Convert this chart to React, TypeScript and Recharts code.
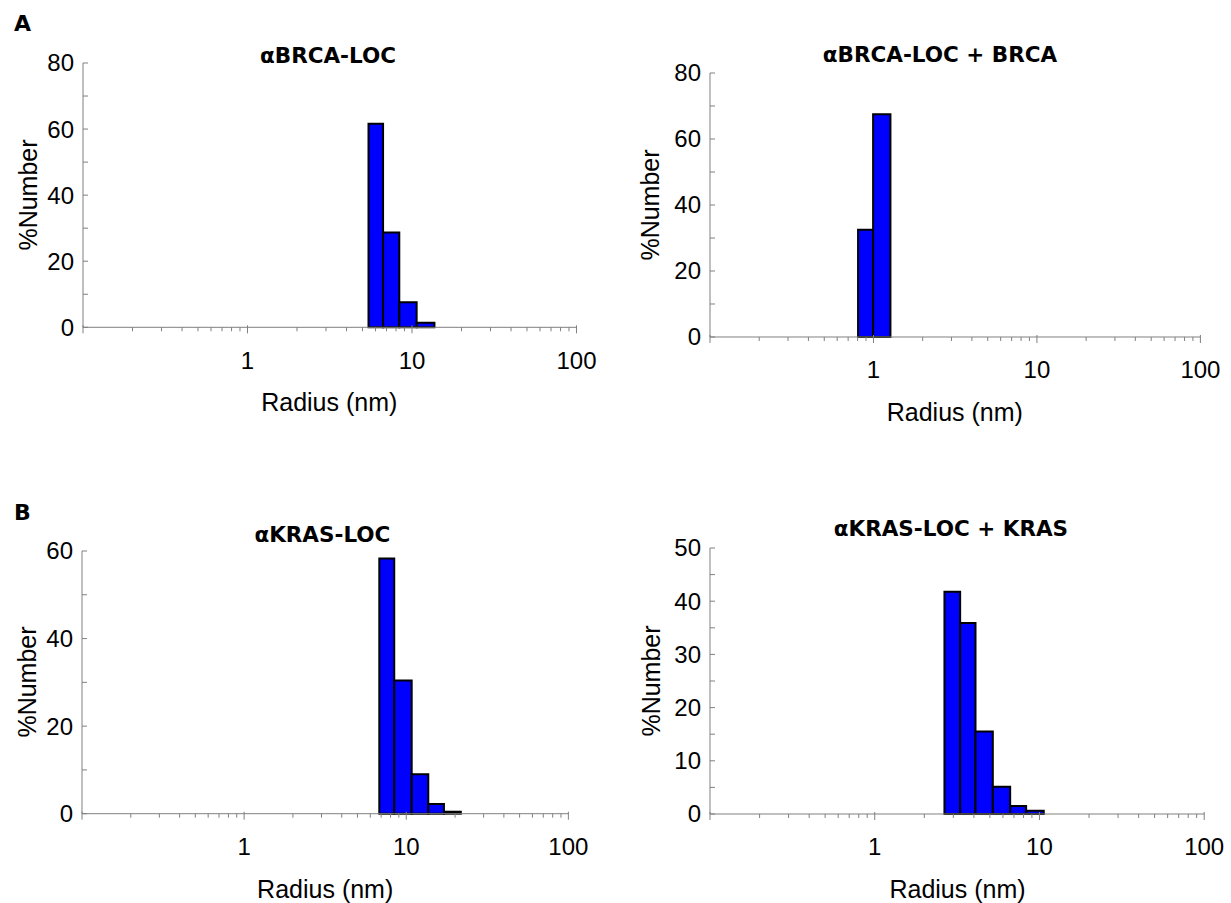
import React from "react";
import { ComposedChart, XAxis, YAxis, ReferenceArea, Line } from "recharts";

// shared log radius axis
const xTicks = [
  0.1, 0.2, 0.3, 0.4, 0.5, 0.6, 0.7, 0.8, 0.9,
  1, 2, 3, 4, 5, 6, 7, 8, 9,
  10, 20, 30, 40, 50, 60, 70, 80, 90,
  100,
];
const xMajor = [0.1, 1, 10, 100];
const xLabels = [1, 10, 100];

// αBRCA-LOC
const brcaLocEdges = [5.44, 6.67, 8.37, 10.67, 13.69];
const brcaLocValues = [61.6, 28.7, 7.6, 1.4];
const brcaLocYTicks = [0, 10, 20, 30, 40, 50, 60, 70, 80];
const brcaLocYLabels = [0, 20, 40, 60, 80];

// αBRCA-LOC + BRCA
const brcaBoundEdges = [0.805, 0.995, 1.27];
const brcaBoundValues = [32.5, 67.5];
const brcaBoundYTicks = [0, 10, 20, 30, 40, 50, 60, 70, 80];
const brcaBoundYLabels = [0, 20, 40, 60, 80];

// αKRAS-LOC
const krasLocEdges = [6.82, 8.43, 10.8, 13.67, 17.08, 21.7];
const krasLocValues = [58.3, 30.4, 9.0, 2.2, 0.45];
const krasLocYTicks = [0, 10, 20, 30, 40, 50, 60];
const krasLocYLabels = [0, 20, 40, 60];

// αKRAS-LOC + KRAS
const krasBoundEdges = [2.65, 3.3, 4.09, 5.21, 6.64, 8.3, 10.62];
const krasBoundValues = [41.8, 35.9, 15.5, 5.1, 1.5, 0.6];
const krasBoundYTicks = [0, 5, 10, 15, 20, 25, 30, 35, 40, 45, 50];
const krasBoundYLabels = [0, 10, 20, 30, 40, 50];

const AXIS_GRAY = "#808080";
const SANS = "'Liberation Sans', Arial, sans-serif";
const TITLE_FONT = "'DejaVu Sans', sans-serif";

const XTick = (props: any) => {
  const { x, y, payload } = props;
  const v = payload.value;
  const major = xMajor.includes(v);
  return (
    <g>
      <line x1={x} x2={x} y1={major ? y - 2 : y} y2={y + (major ? 6 : 4)} stroke={AXIS_GRAY} strokeWidth={1} />
      {xLabels.includes(v) && (
        <text x={x} y={y + 33} textAnchor="middle" dominantBaseline="central" fontSize={24} fontFamily={SANS} fill="#000">
          {v}
        </text>
      )}
    </g>
  );
};

const makeYTick = (labels: number[]) => (props: any) => {
  const { x, y, payload } = props;
  const v = payload.value;
  return (
    <g>
      <line x1={x} x2={x + 5} y1={y} y2={y} stroke={AXIS_GRAY} strokeWidth={1} />
      {labels.includes(v) && (
        <text x={x - 9} y={y} textAnchor="end" dominantBaseline="central" fontSize={24} fontFamily={SANS} fill="#000">
          {v}
        </text>
      )}
    </g>
  );
};

interface PanelProps {
  title: string;
  edges: number[];
  values: number[];
  yTicks: number[];
  yLabels: number[];
  plot: { left: number; right: number; top: number; bottom: number };
  titlePos: { x: number; y: number };
  yLabelX: number;
}

const Panel = ({ title, edges, values, yTicks, yLabels, plot, titlePos, yLabelX }: PanelProps) => {
  const rows = values.map((v, i) => ({ mid: Math.sqrt(edges[i] * edges[i + 1]), value: v }));
  const yMax = yTicks[yTicks.length - 1];
  const plotW = plot.right - plot.left;
  const plotH = plot.bottom - plot.top;
  const YTick = makeYTick(yLabels);
  return (
    <>
      <div
        style={{
          position: "absolute",
          left: titlePos.x,
          top: titlePos.y,
          transform: "translate(-50%, -50%)",
          fontFamily: TITLE_FONT,
          fontWeight: "bold",
          fontSize: 21.5,
          lineHeight: 1,
          whiteSpace: "nowrap",
        }}
      >
        {title}
      </div>
      <div style={{ position: "absolute", left: plot.left - 80, top: plot.top - 20 }}>
        <ComposedChart
          width={plotW + 110}
          height={plotH + 110}
          data={rows}
          margin={{ top: 20, right: 30, left: 0, bottom: 0 }}
        >
          <XAxis
            dataKey="mid"
            type="number"
            scale="log"
            domain={[0.1, 100]}
            allowDataOverflow
            ticks={xTicks}
            interval={0}
            tickSize={0}
            tickMargin={0}
            tickLine={false}
            tick={<XTick />}
            axisLine={{ stroke: AXIS_GRAY, strokeWidth: 1 }}
            height={90}
          />
          <YAxis
            type="number"
            domain={[0, yMax]}
            allowDataOverflow
            ticks={yTicks}
            interval={0}
            tickSize={0}
            tickMargin={0}
            tickLine={false}
            tick={<YTick />}
            axisLine={{ stroke: AXIS_GRAY, strokeWidth: 1 }}
            width={80}
          />
          {values.map((v, i) => (
            <ReferenceArea
              key={i}
              x1={edges[i]}
              x2={edges[i + 1]}
              y1={0}
              y2={v}
              fill="#0000ff"
              fillOpacity={1}
              stroke="#000"
              strokeWidth={2}
              ifOverflow="visible"
            />
          ))}
          <Line
            dataKey="value"
            stroke="none"
            dot={false}
            activeDot={false}
            legendType="none"
            isAnimationActive={false}
          />
        </ComposedChart>
      </div>
      <div
        style={{
          position: "absolute",
          left: yLabelX,
          top: (plot.top + plot.bottom) / 2,
          transform: "translate(-50%, -50%) rotate(-90deg)",
          fontFamily: SANS,
          fontSize: 25,
          lineHeight: 1,
          whiteSpace: "nowrap",
        }}
      >
        %Number
      </div>
      <div
        style={{
          position: "absolute",
          left: (plot.left + plot.right) / 2,
          top: plot.bottom + 75,
          transform: "translate(-50%, -50%)",
          fontFamily: SANS,
          fontSize: 25,
          lineHeight: 1,
          whiteSpace: "nowrap",
        }}
      >
        Radius (nm)
      </div>
    </>
  );
};

const letterStyle: React.CSSProperties = {
  position: "absolute",
  transform: "translate(-50%, -50%)",
  fontFamily: TITLE_FONT,
  fontWeight: "bold",
  fontSize: 22,
  lineHeight: 1,
};

export default function App() {
  return (
    <div style={{ position: "absolute", left: 0, top: 0, width: 1231, height: 903, background: "#fff", overflow: "hidden" }}>
      <div style={{ ...letterStyle, left: 22.5, top: 24 }}>A</div>
      <div style={{ ...letterStyle, left: 22.5, top: 513 }}>B</div>
      <Panel
        title="αBRCA-LOC"
        edges={brcaLocEdges}
        values={brcaLocValues}
        yTicks={brcaLocYTicks}
        yLabels={brcaLocYLabels}
        plot={{ left: 82.5, right: 576, top: 63, bottom: 327.3 }}
        titlePos={{ x: 328, y: 56 }}
        yLabelX={27.5}
      />
      <Panel
        title="αBRCA-LOC + BRCA"
        edges={brcaBoundEdges}
        values={brcaBoundValues}
        yTicks={brcaBoundYTicks}
        yLabels={brcaBoundYLabels}
        plot={{ left: 709.6, right: 1200, top: 72.7, bottom: 336.7 }}
        titlePos={{ x: 940, y: 55 }}
        yLabelX={650}
      />
      <Panel
        title="αKRAS-LOC"
        edges={krasLocEdges}
        values={krasLocValues}
        yTicks={krasLocYTicks}
        yLabels={krasLocYLabels}
        plot={{ left: 82, right: 568.4, top: 551, bottom: 813.7 }}
        titlePos={{ x: 322.4, y: 535 }}
        yLabelX={26.7}
      />
      <Panel
        title="αKRAS-LOC + KRAS"
        edges={krasBoundEdges}
        values={krasBoundValues}
        yTicks={krasBoundYTicks}
        yLabels={krasBoundYLabels}
        plot={{ left: 710.4, right: 1204.6, top: 548.3, bottom: 814.3 }}
        titlePos={{ x: 950.9, y: 529.3 }}
        yLabelX={651}
      />
    </div>
  );
}
